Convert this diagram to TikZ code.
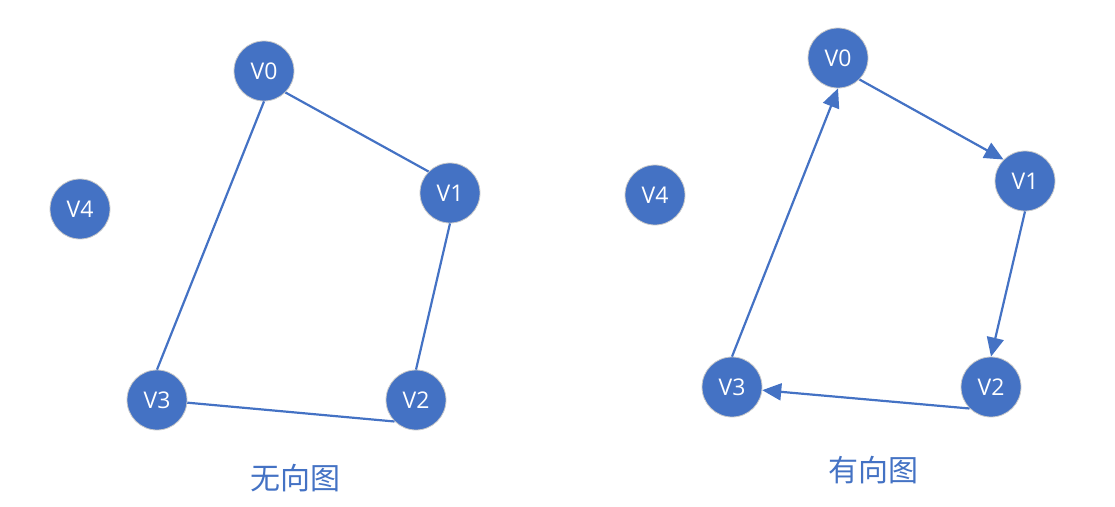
\documentclass[tikz,border=0pt]{standalone}
\usepackage{fontspec}
\setmainfont{Open Sans}
\newfontfamily\cjk{Noto Sans CJK SC}
\usetikzlibrary{arrows.meta}
\definecolor{vblue}{HTML}{4472C4}
\definecolor{vrim}{HTML}{C9C9C9}
\tikzset{
  vert/.style={circle, fill=vblue, draw=vrim, line width=0.8pt, minimum size=60pt, inner sep=0pt, text=white, font=\fontsize{23pt}{25pt}\selectfont},
  edge/.style={draw=vblue, line width=2.2pt},
  arcedge/.style={edge, -{Triangle[length=19pt,width=17pt]}},
  gcaption/.style={text=vblue, font=\cjk\fontsize{30pt}{33pt}\selectfont}
}
\begin{document}
\begin{tikzpicture}[x=1pt,y=-1pt]
\useasboundingbox (0,0) rectangle (1115,506);
% undirected
\node[vert] (a0) at (264,71) {V0};
\node[vert] (a1) at (450,193) {V1};
\node[vert] (a2) at (416,400) {V2};
\node[vert] (a3) at (157,400) {V3};
\node[vert] (a4) at (80,209) {V4};
\draw[edge] (a0.south east) -- (a1.north west);
\draw[edge] (a0.south) -- (a3.north);
\draw[edge] (a1.south) -- (a2.north);
\draw[edge] (a3.-5) -- (a2.south west);
\node[gcaption] (l1) at (295,478) {无向图};
% directed
\node[vert] (b0) at (838,58) {V0};
\node[vert] (b1) at (1025,181) {V1};
\node[vert] (b2) at (991,387) {V2};
\node[vert] (b3) at (732,387) {V3};
\node[vert] (b4) at (655,195) {V4};
\draw[arcedge] (b0.south east) -- (b1.north west);
\draw[arcedge] (b1.south) -- (b2.north);
\draw[arcedge] (b2.south west) -- (b3.-6);
\draw[arcedge] (b3.north) -- (b0.south);
\node[gcaption] (l2) at (873,470) {有向图};
\end{tikzpicture}
\end{document}
